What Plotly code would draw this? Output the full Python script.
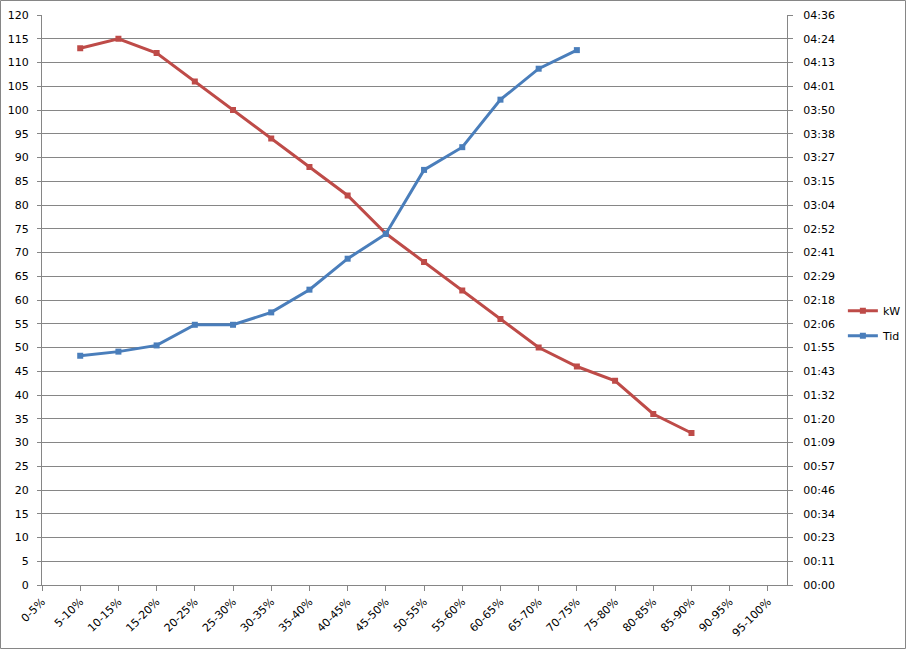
import plotly.graph_objects as go

# categories (state of charge bands)
bands = ["0-5%", "5-10%", "10-15%", "15-20%", "20-25%", "25-30%", "30-35%",
         "35-40%", "40-45%", "45-50%", "50-55%", "55-60%", "60-65%", "65-70%",
         "70-75%", "75-80%", "80-85%", "85-90%", "90-95%", "95-100%"]

# charging power per band
kw = [None, 113, 115, 112, 106, 100, 94, 88, 82, 74, 68, 62, 56, 50, 46, 43, 36, 32, None, None]

# elapsed time (hh:mm) per band
tid = [None, "01:51", "01:53", "01:56", "02:06", "02:06", "02:12", "02:23", "02:38",
       "02:50", "03:21", "03:32", "03:55", "04:10", "04:19", None, None, None, None, None]


def to_minutes(s):
    if s is None:
        return None
    h, m = s.split(":")
    return int(h) * 60 + int(m)


tid_min = [to_minutes(t) for t in tid]

# right axis: 24 steps of 11.5 minutes, Excel shows truncated hh:mm
time_step = 11.5
time_vals = [i * time_step for i in range(25)]
time_text = ["%02d:%02d" % (int(v) // 60, int(v) % 60) for v in time_vals]

W, H = 906, 649
L, R, T, B = 42, 119, 15, 64

fig = go.Figure()
fig.add_trace(go.Scatter(
    x=bands, y=kw, name="kW", mode="lines+markers",
    line=dict(color="#BE4B48", width=3),
    marker=dict(symbol="square", size=6, color="#BE4B48"),
    legendgroup="a"))
fig.add_trace(go.Scatter(
    x=bands, y=tid_min, name="Tid", mode="lines+markers", yaxis="y2",
    line=dict(color="#4A7EBB", width=3),
    marker=dict(symbol="square", size=6, color="#4A7EBB"),
    legendgroup="b"))

grid = "#868686"
fig.update_layout(
    width=W, height=H,
    margin=dict(l=L, r=R, t=T, b=B, autoexpand=False),
    paper_bgcolor="white", plot_bgcolor="white",
    font=dict(family="DejaVu Sans", size=11, color="#000000"),
    xaxis=dict(
        type="category", range=[0, 19.5], tickangle=-45, automargin=False,
        showgrid=False, showline=True, linecolor=grid, linewidth=1,
        ticks="outside", ticklen=5, tickcolor=grid, zeroline=False),
    yaxis=dict(
        range=[0, 120], dtick=5, showgrid=True, gridcolor=grid, gridwidth=1,
        showline=True, linecolor=grid, ticks="outside", ticklen=4,
        tickcolor=grid, zeroline=False, ticklabelstandoff=6, automargin=False),
    yaxis2=dict(
        overlaying="y", side="right", range=[0, 276],
        tickvals=time_vals, ticktext=time_text, showgrid=False,
        showline=True, linecolor=grid, ticks="outside", ticklen=5,
        tickcolor=grid, zeroline=False, ticklabelstandoff=8, automargin=False),
    legend=dict(x=1.075, y=0.459, xanchor="left", yanchor="middle",
                tracegroupgap=6, traceorder="grouped",
                bgcolor="rgba(0,0,0,0)", font=dict(size=11)),
    showlegend=True,
)

# outer chart border
pw, ph = W - L - R, H - T - B
fig.add_shape(type="rect", xref="paper", yref="paper",
              x0=(0.5 - L) / pw, x1=(W - 0.5 - L) / pw,
              y0=-(B - 0.5) / ph, y1=1 + (T - 0.5) / ph,
              line=dict(color=grid, width=1), layer="below")

# drop the default page margin so the chart fills the window exactly
fig.write_html("out.html", config={"displayModeBar": False},
               post_script="document.body.style.margin='0';")
